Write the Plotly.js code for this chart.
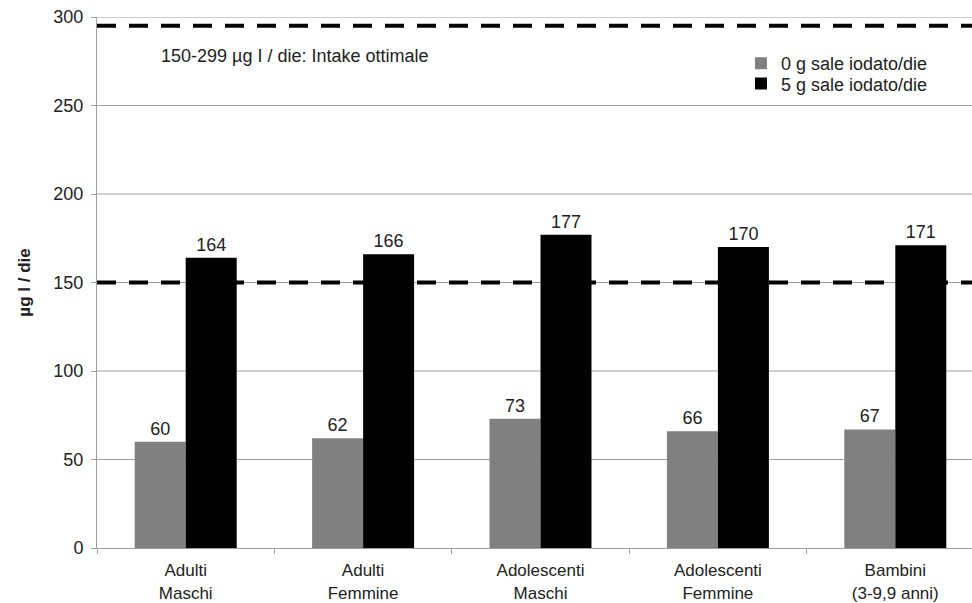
<!DOCTYPE html>
<html>
<head>
<meta charset="utf-8">
<script src="https://cdn.plot.ly/plotly-3.0.1.min.js"></script>
<style>
html,body{margin:0;padding:0;overflow:hidden;background:#fff;}
#chart{width:984px;height:603px;}
</style>
</head>
<body>
<div id="chart"></div>
<script>
const categories = ["Adulti<br>Maschi", "Adulti<br>Femmine", "Adolescenti<br>Maschi", "Adolescenti<br>Femmine", "Bambini<br>(3-9,9 anni)"];
const series0g = [60, 62, 73, 66, 67];
const series5g = [164, 166, 177, 170, 171];
const seriesNames = ["0 g sale iodato/die", "5 g sale iodato/die"];
const thresholds = [150, 295];
const yTicks = [0, 50, 100, 150, 200, 250, 300];
const noteText = "150-299 µg I / die: Intake ottimale";
const yTitle = "µg I / die";

const FONT = "'Liberation Sans', Arial, sans-serif";
const TXT = "#222";
const GRID = "#a0a0a0";

const traces = [
  {type:"bar", name:seriesNames[0], x:categories, y:series0g, marker:{color:"#808080"},
   text:series0g.map(String), textposition:"outside", cliponaxis:false, legend:"legend",
   textfont:{family:FONT,size:18,color:TXT}, hoverinfo:"none"},
  {type:"bar", name:seriesNames[1], x:categories, y:series5g, marker:{color:"#000000"},
   text:series5g.map(String), textposition:"outside", cliponaxis:false, legend:"legend2",
   textfont:{family:FONT,size:18,color:TXT}, hoverinfo:"none"}
];

// gridlines as shapes (so that dashed reference lines can sit above them but below bars)
const gridShapes = yTicks.filter(v => v > 0).map(v => ({
  type:"line", xref:"x domain", yref:"y", x0:0, x1:1, y0:v, y1:v,
  layer:"below", line:{color:GRID, width:1}
}));
const dashShapes = thresholds.map(v => ({
  type:"line", xref:"x domain", yref:"y", x0:0, x1:1, y0:v, y1:v,
  layer:"below", line:{color:"#000", width:4, dash:"19px,13px"}
}));

const legendCommon = {xanchor:"left", yanchor:"top", bgcolor:"rgba(0,0,0,0)",
  font:{family:FONT,size:18,color:TXT}, itemwidth:30};

const layout = {
  width:984, height:603,
  margin:{l:97, r:0, t:17, b:55},
  paper_bgcolor:"#fff", plot_bgcolor:"#fff",
  font:{family:FONT, size:18, color:TXT},
  barmode:"group", bargap:0.425, bargroupgap:0,
  showlegend:true,
  legend:Object.assign({x:0.726, y:0.947}, legendCommon),
  legend2:Object.assign({x:0.726, y:0.909}, legendCommon),
  xaxis:{type:"category", showgrid:false, showline:true, linecolor:GRID, linewidth:1,
         ticks:"outside", tickson:"boundaries", ticklen:5, tickcolor:GRID,
         ticklabelstandoff:7,
         tickfont:{family:FONT,size:17,color:TXT}, fixedrange:true},
  yaxis:{range:[0,300], tickvals:yTicks, ticktext:yTicks.map(String),
         showgrid:false, zeroline:false,
         showline:true, linecolor:GRID, linewidth:1,
         ticks:"outside", ticklen:5, tickcolor:GRID, ticklabelstandoff:4,
         tickfont:{family:FONT,size:18,color:TXT},
         title:{text:"<b>"+yTitle+"</b>", font:{family:FONT,size:17,color:TXT}, standoff:18},
         fixedrange:true},
  shapes:gridShapes.concat(dashShapes),
  annotations:[{xref:"paper", yref:"y", x:0.07, y:278, xanchor:"left", yanchor:"middle",
                text:noteText, showarrow:false, font:{family:FONT,size:18,color:TXT}}]
};

Plotly.newPlot("chart", traces, layout, {staticPlot:true, displayModeBar:false});
</script>
</body>
</html>
